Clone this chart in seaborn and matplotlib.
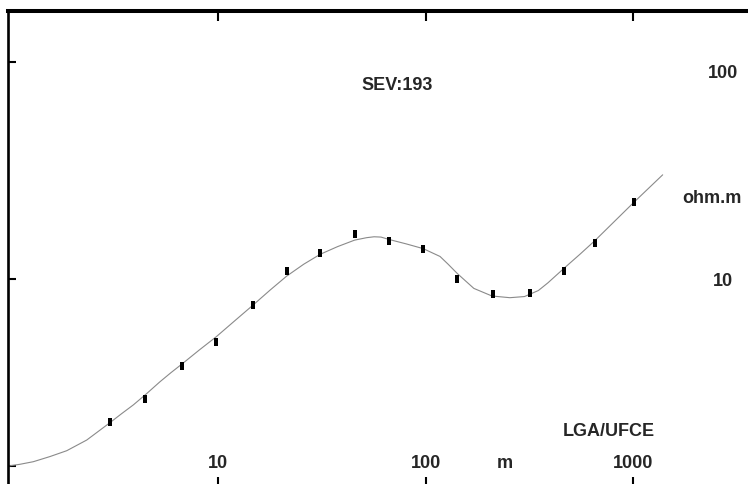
import matplotlib
matplotlib.use("Agg")
import matplotlib.pyplot as plt
import matplotlib.ticker as mticker
import seaborn as sns
import pandas as pd

# ---- data ----
obs_ab2 = [3.03, 4.43, 6.71, 9.8, 14.7, 21.4, 31.1, 45.5, 67, 97.5, 142, 212, 319, 465, 653, 1007]
obs_rho = [2.19, 2.80, 3.98, 5.14, 7.57, 10.9, 13.2, 16.2, 14.9, 13.7, 10.0, 8.53, 8.65, 10.9, 14.7, 22.6]

model_ab2 = [0.976, 1.11, 1.288, 1.55, 1.866, 2.33, 2.64, 3.02, 3.44, 3.91, 4.56, 5.25, 5.93,
             6.71, 8.13, 9.81, 12.0, 14.7, 17.9, 21.4, 25.9, 31.1, 37.7, 45.5, 52.0, 56.5,
             61.0, 66.9, 81.0, 97.5, 117.5, 128.5, 142.3, 171, 209, 255, 300, 350, 389,
             465, 555, 654, 1007, 1390]
model_rho = [1.375, 1.40, 1.439, 1.52, 1.617, 1.811, 1.98, 2.18, 2.40, 2.63, 2.98, 3.36, 3.70,
             4.06, 4.71, 5.42, 6.40, 7.56, 8.92, 10.3, 11.7, 13.0, 14.1, 15.1, 15.5, 15.65,
             15.6, 15.2, 14.5, 13.8, 12.7, 11.7, 10.6, 9.05, 8.35, 8.20, 8.30, 8.85, 9.6,
             11.2, 13.0, 15.0, 22.5, 30.2]

x_ticks = [10, 100, 1000]
x_tick_labels = ["10", "100", "1000"]
y_ticks = [1.375, 10, 100]
y_tick_labels = ["100", "10"]

title_text = "SEV:193"
x_unit = "m"
y_unit = "ohm.m"
credit = "LGA/UFCE"

# ---- styling ----
sns.set_style("white")
plt.rcParams["font.family"] = ["Liberation Sans", "DejaVu Sans"]

W, H = 748, 484
fig = plt.figure(figsize=(W / 100, H / 100), dpi=100)
# axes box in pixels: left 8, top 11.3, right 760, bottom 487 (partly beyond the canvas)
L, T, R, B = 8, 11.3, 760, 487
ax = fig.add_axes([L / W, 1 - B / H, (R - L) / W, (B - T) / H])
ax.set_xscale("log")
ax.set_yscale("log")

model_df = pd.DataFrame({"ab2": model_ab2, "rho": model_rho})
obs_df = pd.DataFrame({"ab2": obs_ab2, "rho": obs_rho})

sns.lineplot(data=model_df, x="ab2", y="rho", sort=False, estimator=None,
             color="#8a8a8a", linewidth=0.8, ax=ax)
rect = [(-0.45, -1), (0.45, -1), (0.45, 1), (-0.45, 1)]
sns.scatterplot(data=obs_df, x="ab2", y="rho", marker=rect, s=36,
                color="black", linewidth=0, ax=ax, zorder=3)

ax.set_xlim(0.9726, 4093)
ax.set_ylim(1.1003, 171.2)

ax.set_xlabel("")
ax.set_ylabel("")

ax.xaxis.set_major_locator(mticker.FixedLocator(x_ticks))
ax.xaxis.set_minor_locator(mticker.NullLocator())
ax.yaxis.set_major_locator(mticker.FixedLocator(y_ticks))
ax.yaxis.set_minor_locator(mticker.NullLocator())
ax.tick_params(axis="x", which="major", direction="in", top=True, bottom=True,
               labelbottom=False, labeltop=False, length=7.0, width=1.5, color="black")
ax.tick_params(axis="y", which="major", direction="in", left=True, right=False,
               labelleft=False, length=5.8, width=1.5, color="black")

for s in ["right", "bottom"]:
    ax.spines[s].set_visible(False)
ax.spines["top"].set_linewidth(2.9)
ax.spines["left"].set_linewidth(1.9)
ax.spines["top"].set_color("black")
ax.spines["left"].set_color("black")

fs = 13
fw = "bold"
xt = ax.get_xaxis_transform()
yfrac = (B - 463) / (B - T)
for v, lab in zip(x_ticks, x_tick_labels):
    ax.text(v, yfrac, lab, transform=xt, ha="center", va="center",
            fontsize=fs, fontweight=fw)


def ftext(px, py, s):
    fig.text(px / W, 1 - py / H, s, ha="center", va="center", fontsize=fs, fontweight=fw)


ftext(505, 463, x_unit)
ftext(397, 85, title_text)
ftext(609, 431, credit)
ftext(712, 198, y_unit)
for py, lab in zip([73, 281], y_tick_labels):
    ftext(723, py, lab)

fig.savefig("out.png", dpi=100)
